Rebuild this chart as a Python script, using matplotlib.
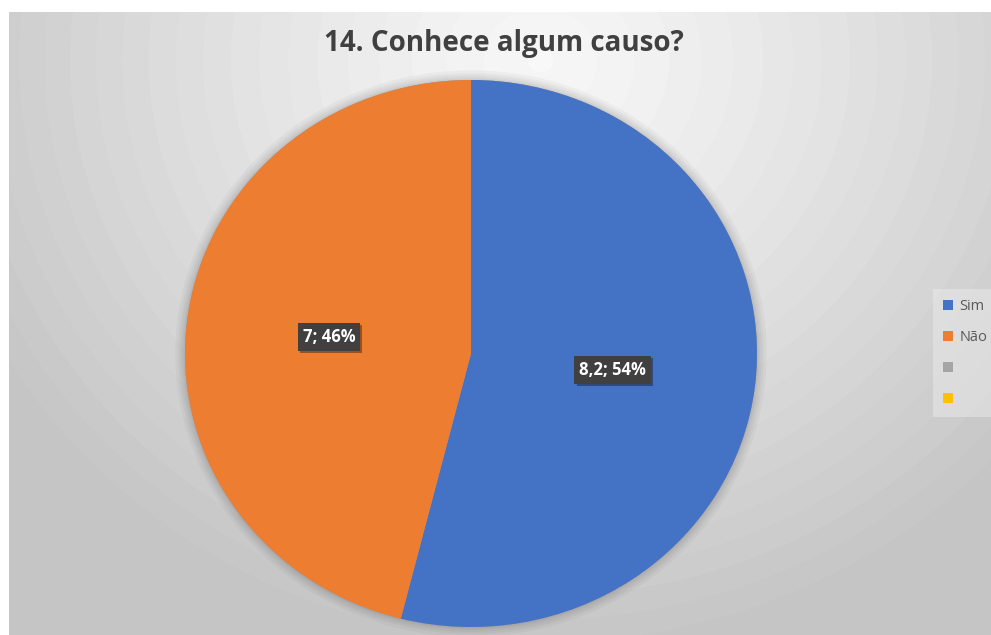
import numpy as np
import matplotlib
matplotlib.use('Agg')
import matplotlib.pyplot as plt
from matplotlib import patheffects
from matplotlib.patches import Ellipse

# dados
categorias = ['Sim', 'Não', '', '']
valores = [8.2, 7, 0, 0]
cores = ['#4472C4', '#ED7D31', '#A5A5A5', '#FFC000']
titulo = '14. Conhece algum causo?'

W, H = 991, 635
fig = plt.figure(figsize=(W / 100, H / 100), dpi=100)
fig.patch.set_facecolor('white')

# fundo com gradiente radial (estilo Excel)
x0, y0 = 9, 12
bg = fig.add_axes([x0 / W, 0, 1 - x0 / W, (H - y0) / H])
bg.set_axis_off()
gx, gy = np.meshgrid(np.arange(x0, W), np.arange(y0, H))
d = np.hypot((gx - 540) / 640.0, (gy - 60) / 600.0)
d = np.clip(d, 0, 1)
tons = 0.97 - 0.20 * d ** 1.2
tons = np.round(tons * 110) / 110  # bandas suaves
bg.imshow(np.dstack([tons, tons, tons]), aspect='auto', interpolation='bilinear')

# eixo da pizza
cx, cy, rx, ry = 471, 353.5, 286, 273.5
ax = fig.add_axes([(cx - rx) / W, (H - cy - ry) / H, 2 * rx / W, 2 * ry / H])
ax.patch.set_alpha(0)

total = sum(valores)


def rotulo(pct):
    v = pct * total / 100
    if v <= 0:
        return ''
    txt = f'{v:.1f}'.rstrip('0').rstrip('.').replace('.', ',')
    return f'{txt}; {pct:.0f}%'


# sombra suave atrás da pizza
sombra = Ellipse((0, 0), 2, 2, facecolor='#999999', edgecolor='none', zorder=0, clip_on=False)
sombra.set_path_effects([patheffects.Stroke(linewidth=w, foreground='black', alpha=0.03)
                         for w in (14, 10, 7, 4, 2)] + [patheffects.Normal()])
ax.add_patch(sombra)

fatias, _, autos = ax.pie(valores, colors=cores, startangle=90, counterclock=False,
                          autopct=rotulo, pctdistance=0.5,
                          wedgeprops=dict(linewidth=0),
                          textprops=dict(color='white', fontsize=12, fontweight='bold',
                                         family=['Open Sans', 'DejaVu Sans']))
for t in autos:
    if t.get_text():
        t.set_bbox(dict(boxstyle='square,pad=0.3', facecolor='#404040', edgecolor='none'))
        t.get_bbox_patch().set_path_effects([
            patheffects.SimplePatchShadow(offset=(1.5, -1.5), shadow_rgbFace='black', alpha=0.35),
            patheffects.Normal()])

ax.set_aspect('auto')
ax.set_xlim(-1, 1)
ax.set_ylim(-1, 1)

# título
fig.text(0.508, (H - 43) / H, titulo, ha='center', va='center', fontsize=20,
         fontweight='bold', color='#404040', family=['Open Sans', 'DejaVu Sans'])

# legenda
leg = fig.legend(fatias, categorias, loc='center left',
                 bbox_to_anchor=(933 / W, (H - 353) / H), frameon=True,
                 handlelength=0.7, handleheight=0.7, handletextpad=0.4,
                 labelspacing=1.1, borderpad=0.7, borderaxespad=0,
                 prop=dict(family=['Open Sans', 'DejaVu Sans'], size=10.5))
leg.get_frame().set_facecolor('#eeeeee')
leg.get_frame().set_alpha(0.45)
leg.get_frame().set_edgecolor('none')
leg.get_frame().set_boxstyle('square', pad=0)
for t in leg.get_texts():
    t.set_color('#595959')

fig.savefig('out.png', dpi=100)
